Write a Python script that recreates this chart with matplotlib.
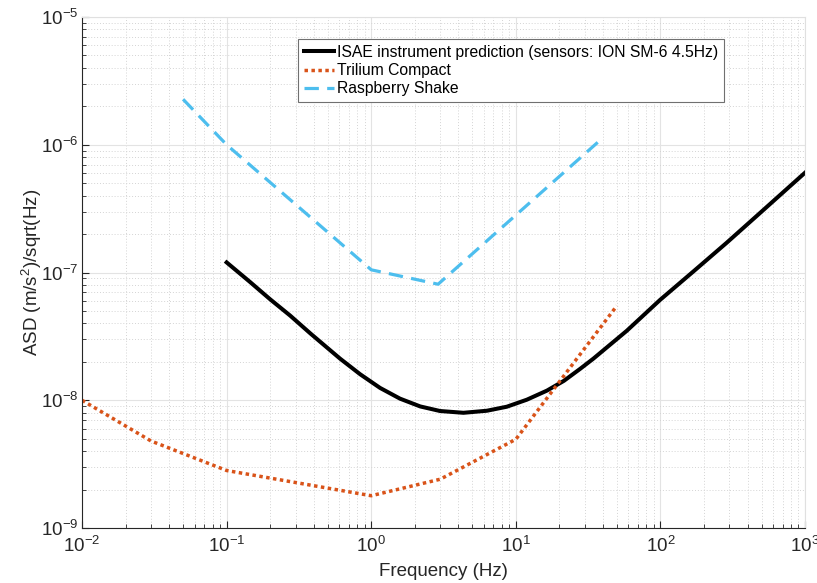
import matplotlib
matplotlib.use('Agg')
import matplotlib.pyplot as plt

# 字体：接近 MATLAB 的 Helvetica 风格
plt.rcParams['font.family'] = ['Liberation Sans', 'DejaVu Sans']
plt.rcParams['mathtext.fontset'] = 'custom'
plt.rcParams['mathtext.rm'] = 'Liberation Sans'
plt.rcParams['mathtext.it'] = 'Liberation Sans:italic'

# ISAE instrument prediction
isae_freq = [0.1, 0.145, 0.2, 0.275, 0.38, 0.608, 0.837, 1.15, 1.58, 2.18,
             2.99, 4.34, 6.30, 8.65, 11.9, 16.4, 21.5, 27.8, 34.4, 58.5,
             99.3, 169, 287, 489, 1000]
isae_asd = [1.20e-7, 8.44e-8, 6.17e-8, 4.6e-8, 3.33e-8, 2.12e-8, 1.6e-8,
            1.25e-8, 1.03e-8, 8.95e-9, 8.24e-9, 7.98e-9, 8.28e-9, 8.90e-9,
            1.01e-8, 1.19e-8, 1.42e-8, 1.76e-8, 2.12e-8, 3.5e-8, 6.1e-8,
            1.02e-7, 1.71e-7, 2.93e-7, 6.05e-7]

# Trilium Compact
trilium_freq = [0.01, 0.03, 0.1, 1, 3, 10, 50]
trilium_asd = [1.0e-8, 4.8e-9, 2.82e-9, 1.79e-9, 2.41e-9, 4.95e-9, 5.5e-8]

# Raspberry Shake
rs_freq = [0.05, 0.1, 1, 2.9, 37]
rs_asd = [2.27e-6, 1.0e-6, 1.05e-7, 8.1e-8, 1.05e-6]

labels = ['ISAE instrument prediction (sensors: ION SM-6 4.5Hz)',
          'Trilium Compact', 'Raspberry Shake']

fig = plt.figure(figsize=(8.17, 5.83), dpi=100)
ax = fig.add_axes([0.1004, 0.0943, 0.885, 0.8765])

ax.loglog(isae_freq, isae_asd, color='black', lw=2.9, label=labels[0],
          solid_joinstyle='round')
ax.loglog(trilium_freq, trilium_asd, color='#D95319', lw=2.5,
          linestyle=(0, (1, 1)), label=labels[1])
ax.loglog(rs_freq, rs_asd, color='#4DBEEE', lw=2.3,
          linestyle=(0, (4.5, 2.6)), label=labels[2])

ax.set_xlim(1e-2, 1e3)
ax.set_ylim(1e-9, 1e-5)

# MATLAB 风格网格
ax.grid(True, which='major', color='#e3e3e3', lw=0.8, linestyle='-')
ax.grid(True, which='minor', color='#d4d4d4', lw=0.7, linestyle=(0, (1, 2)))
ax.set_axisbelow(True)

ax.tick_params(which='both', direction='in', top=False, right=False,
               colors='#262626', labelsize=13.5)
ax.tick_params(which='major', length=5, width=0.8)
ax.tick_params(which='minor', length=3, width=0.6)
ax.tick_params(axis='x', which='major', pad=6)
ax.tick_params(axis='y', which='major', pad=2.5)

for side in ['left', 'bottom']:
    ax.spines[side].set_color('#262626')
    ax.spines[side].set_linewidth(0.8)
for side in ['top', 'right']:
    ax.spines[side].set_color('#e0e0e0')
    ax.spines[side].set_linewidth(0.8)

ax.set_xlabel('Frequency (Hz)', fontsize=13.5, color='#262626', labelpad=4.5)
ax.set_ylabel('ASD (m/s$^{2}$)/sqrt(Hz)', fontsize=13.5, color='#262626',
              labelpad=-2)

leg = ax.legend(loc='upper left', bbox_to_anchor=(0.2988, 0.957),
                borderaxespad=0, fontsize=11.3, handlelength=1.9,
                handletextpad=0.2, labelspacing=0.2, borderpad=0.38,
                fancybox=False, framealpha=1)
leg.get_frame().set_edgecolor('#707070')
leg.get_frame().set_linewidth(0.8)

plt.savefig('out.png', dpi=100)
plt.close()
